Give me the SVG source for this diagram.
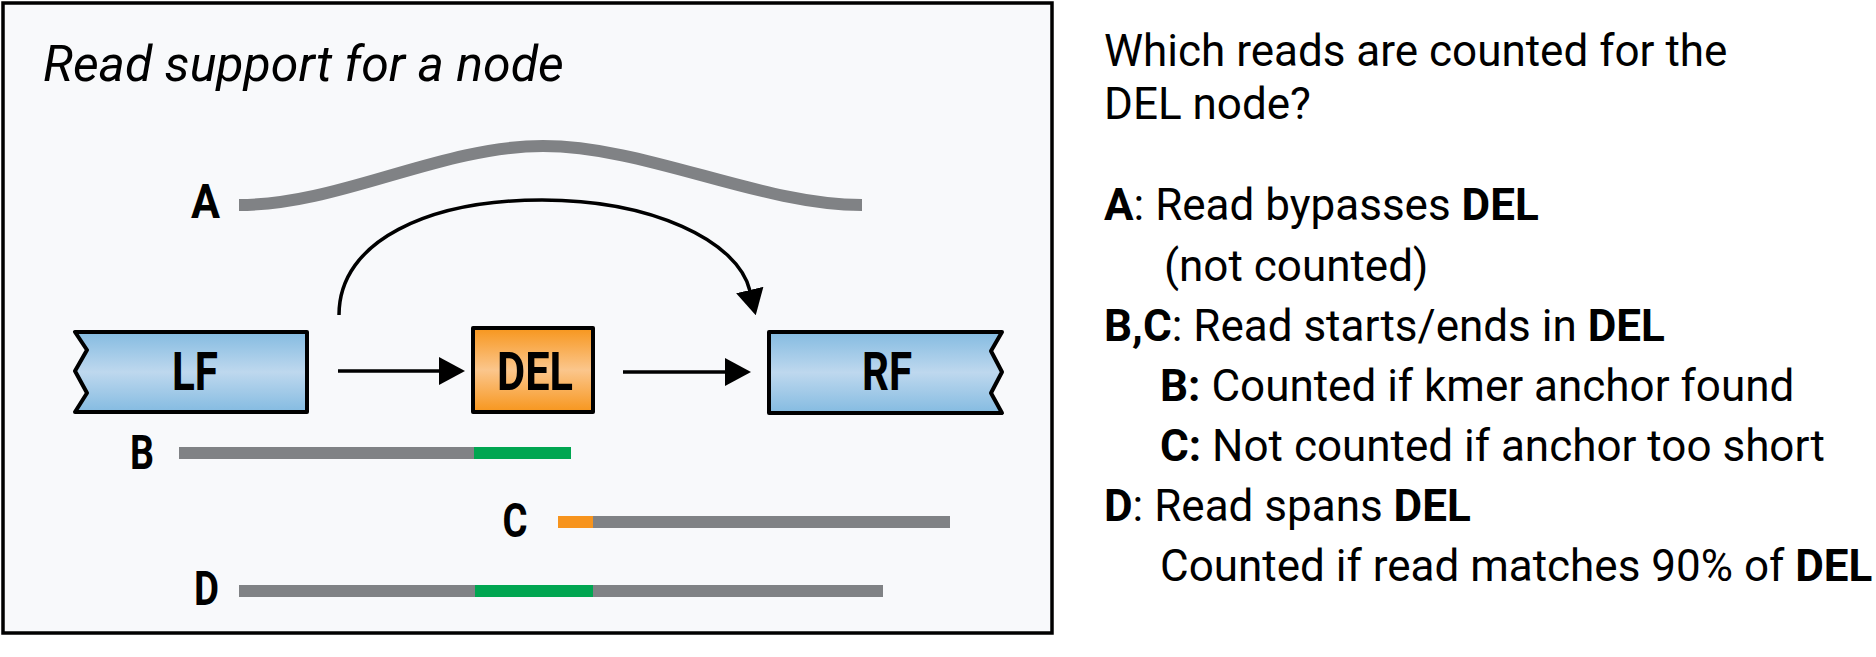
<svg xmlns="http://www.w3.org/2000/svg" width="1876" height="657" viewBox="0 0 1876 657">
<defs>
<linearGradient id="gBlue" x1="0" y1="0" x2="0" y2="1">
<stop offset="0" stop-color="#84bbe1"/>
<stop offset="0.5" stop-color="#bed8ee"/>
<stop offset="1" stop-color="#84bbe1"/>
</linearGradient>
<linearGradient id="gOrange" x1="0" y1="0" x2="0" y2="1">
<stop offset="0" stop-color="#f7961d"/>
<stop offset="0.5" stop-color="#fbc68c"/>
<stop offset="1" stop-color="#f7961d"/>
</linearGradient>
<marker id="arr" viewBox="0 0 26 28" refX="1" refY="14" markerWidth="26" markerHeight="28" markerUnits="userSpaceOnUse" orient="auto">
<path d="M0,0 L26,14 L0,28 z" fill="#000"/>
</marker>
<style>
.node{stroke:#000;stroke-width:4;stroke-linejoin:round}
.nlab{font-family:Roboto,"Liberation Sans",sans-serif;font-weight:bold;font-size:54px;fill:#000}
.lab{font-family:Roboto,"Liberation Sans",sans-serif;font-weight:bold;font-size:48px;fill:#000}
.edge{fill:none;stroke:#000;stroke-width:3.5}
.read{fill:none;stroke-width:12}
.txt{font-family:Roboto,"Liberation Sans",sans-serif;font-size:44px;fill:#000}
.b{font-weight:bold}
</style>
</defs>
<rect x="0" y="0" width="1876" height="657" fill="#fff"/>
<rect id="frame" x="3" y="3" width="1049" height="630" fill="#f8f9fb" stroke="#000" stroke-width="3.5"/>
<text x="43" y="81" font-family="Roboto,'Liberation Sans',sans-serif" font-style="italic" font-size="50px" fill="#000">Read support for a node</text>

<g id="connectors">
<path class="edge" d="M338,371 L440,371" marker-end="url(#arr)"/>
<path class="edge" d="M623,372 L726,372" marker-end="url(#arr)"/>
<path class="edge" d="M339,315 C339,240 430,200 542,200 C650,200 738,240 750,291" marker-end="url(#arr)"/>
</g>

<g id="node-LF">
<polygon class="node" fill="url(#gBlue)" points="75,332 307,332 307,412 75,412 87,393 75,371 87,350"/>
<text class="nlab" x="195" y="390" text-anchor="middle" textLength="46" lengthAdjust="spacingAndGlyphs">LF</text>
</g>
<g id="node-DEL">
<rect class="node" fill="url(#gOrange)" x="473" y="328" width="120" height="84"/>
<text class="nlab" x="535" y="390" text-anchor="middle" textLength="76" lengthAdjust="spacingAndGlyphs">DEL</text>
</g>
<g id="node-RF">
<polygon class="node" fill="url(#gBlue)" points="769,332 1002,332 991,351 1002,372 991,393 1002,413 769,413"/>
<text class="nlab" x="887" y="390" text-anchor="middle" textLength="50" lengthAdjust="spacingAndGlyphs">RF</text>
</g>

<g id="read-A">
<path d="M239,205 C340,205 440,146 543,146 C646,146 760,205 862,205" fill="none" stroke="#808285" stroke-width="12"/>
<text class="lab" x="205.5" y="218" text-anchor="middle" textLength="29" lengthAdjust="spacingAndGlyphs">A</text>
</g>
<g id="read-B">
<line class="read" x1="179" y1="453" x2="474" y2="453" stroke="#808285"/>
<line class="read" x1="474" y1="453" x2="571" y2="453" stroke="#00a651"/>
<text class="lab" x="142" y="469" text-anchor="middle" textLength="24" lengthAdjust="spacingAndGlyphs">B</text>
</g>
<g id="read-C">
<line class="read" x1="558" y1="522" x2="593" y2="522" stroke="#f7941d"/>
<line class="read" x1="593" y1="522" x2="950" y2="522" stroke="#808285"/>
<text class="lab" x="515" y="537" text-anchor="middle" textLength="25" lengthAdjust="spacingAndGlyphs">C</text>
</g>
<g id="read-D">
<line class="read" x1="239" y1="591" x2="475" y2="591" stroke="#808285"/>
<line class="read" x1="475" y1="591" x2="593" y2="591" stroke="#00a651"/>
<line class="read" x1="593" y1="591" x2="883" y2="591" stroke="#808285"/>
<text class="lab" x="206.5" y="605" text-anchor="middle" textLength="25" lengthAdjust="spacingAndGlyphs">D</text>
</g>

<g id="legend">
<text class="txt" x="1104" y="66">Which reads are counted for the</text>
<text class="txt" x="1104" y="119">DEL node?</text>
<text class="txt" x="1104" y="220"><tspan class="b">A</tspan>: Read bypasses <tspan class="b">DEL</tspan></text>
<text class="txt" x="1164" y="281">(not counted)</text>
<text class="txt" x="1104" y="341"><tspan class="b">B,C</tspan>: Read starts/ends in <tspan class="b">DEL</tspan></text>
<text class="txt" x="1160" y="401"><tspan class="b">B:</tspan> Counted if kmer anchor found</text>
<text class="txt" x="1160" y="461"><tspan class="b">C:</tspan> Not counted if anchor too short</text>
<text class="txt" x="1104" y="521"><tspan class="b">D</tspan>: Read spans <tspan class="b">DEL</tspan></text>
<text class="txt" x="1160" y="581">Counted if read matches 90% of <tspan class="b">DEL</tspan></text>
</g>
</svg>
